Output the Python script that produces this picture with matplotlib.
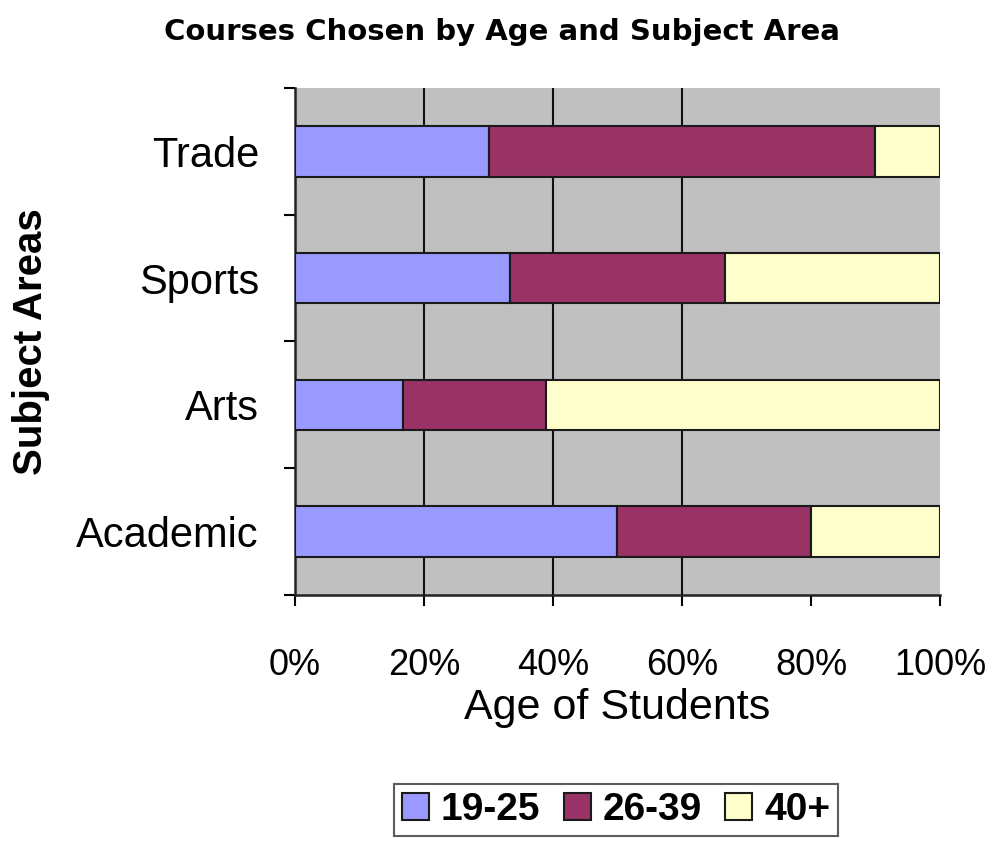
import matplotlib
matplotlib.use("Agg")
import matplotlib.pyplot as plt
import numpy as np

# values (share of students, fractions of 1)
subjects = ["Academic", "Arts", "Sports", "Trade"]
age_groups = ["19-25", "26-39", "40+"]
share_19_25 = [0.50, 0.167, 0.333, 0.30]
share_26_39 = [0.30, 0.222, 0.333, 0.60]
share_40_plus = [0.20, 0.611, 0.334, 0.10]
colours = ["#9999FF", "#993366", "#FFFFCC"]
x_ticks = [0.0, 0.2, 0.4, 0.6, 0.8, 1.0]
x_tick_labels = ["0%", "20%", "40%", "60%", "80%", "100%"]

plt.rcParams["font.family"] = ["Liberation Sans", "DejaVu Sans"]

fig = plt.figure(figsize=(9.95, 8.46), dpi=100)
ax = fig.add_axes([0.2965, 0.2967, 0.6482, 0.5993])
ax.set_facecolor("#C0C0C0")

ypos = np.arange(len(subjects))
left = np.zeros(len(subjects))
for label, values, colour in zip(age_groups, (share_19_25, share_26_39, share_40_plus), colours):
    ax.barh(ypos, values, left=left, height=0.4, color=colour,
            edgecolor="#1a1a1a", linewidth=1.5, label=label, zorder=3)
    left = left + np.array(values)

ax.set_xlim(0, 1.0)
ax.set_ylim(-0.5, len(subjects) - 0.5)

# gridlines at 20/40/60 only, as in the original
for x in x_ticks[1:4]:
    ax.axvline(x, color="#111111", linewidth=1.5, zorder=1)

ax.set_xticks(x_ticks)
ax.set_xticklabels(x_tick_labels, fontsize=26)
ax.tick_params(axis="x", direction="out", length=8, width=1.5, pad=30)

ax.set_yticks(np.arange(-0.5, len(subjects)), labels=[""] * (len(subjects) + 1))
ax.set_yticks(ypos, labels=subjects, minor=True)
ax.tick_params(axis="y", which="major", direction="out", length=8, width=1.5)
ax.tick_params(axis="y", which="minor", length=0, pad=26, labelsize=30)

for side in ("top", "right"):
    ax.spines[side].set_visible(False)
for side in ("left", "bottom"):
    ax.spines[side].set_linewidth(1.8)
    ax.spines[side].set_color("#222222")

ax.set_xlabel("Age of Students", fontsize=31, labelpad=4)
ax.set_ylabel("Subject Areas", fontsize=29, fontweight="bold")
ax.yaxis.set_label_coords(-0.38, 0.5)

fig.text(0.5045, 0.962, "Courses Chosen by Age and Subject Area",
         family="DejaVu Sans", fontweight="bold", fontsize=21,
         ha="center", va="center")

leg = fig.legend(loc="center", bbox_to_anchor=(616 / 995, 1 - 810 / 846), ncol=3,
                 prop={"weight": "bold", "size": 28},
                 handlelength=0.7, handleheight=0.7, handletextpad=0.3,
                 columnspacing=0.6, borderpad=0.2, fancybox=False,
                 frameon=True, edgecolor="#333333")
leg.get_frame().set_linewidth(1.5)

fig.savefig("out.png", dpi=100)
